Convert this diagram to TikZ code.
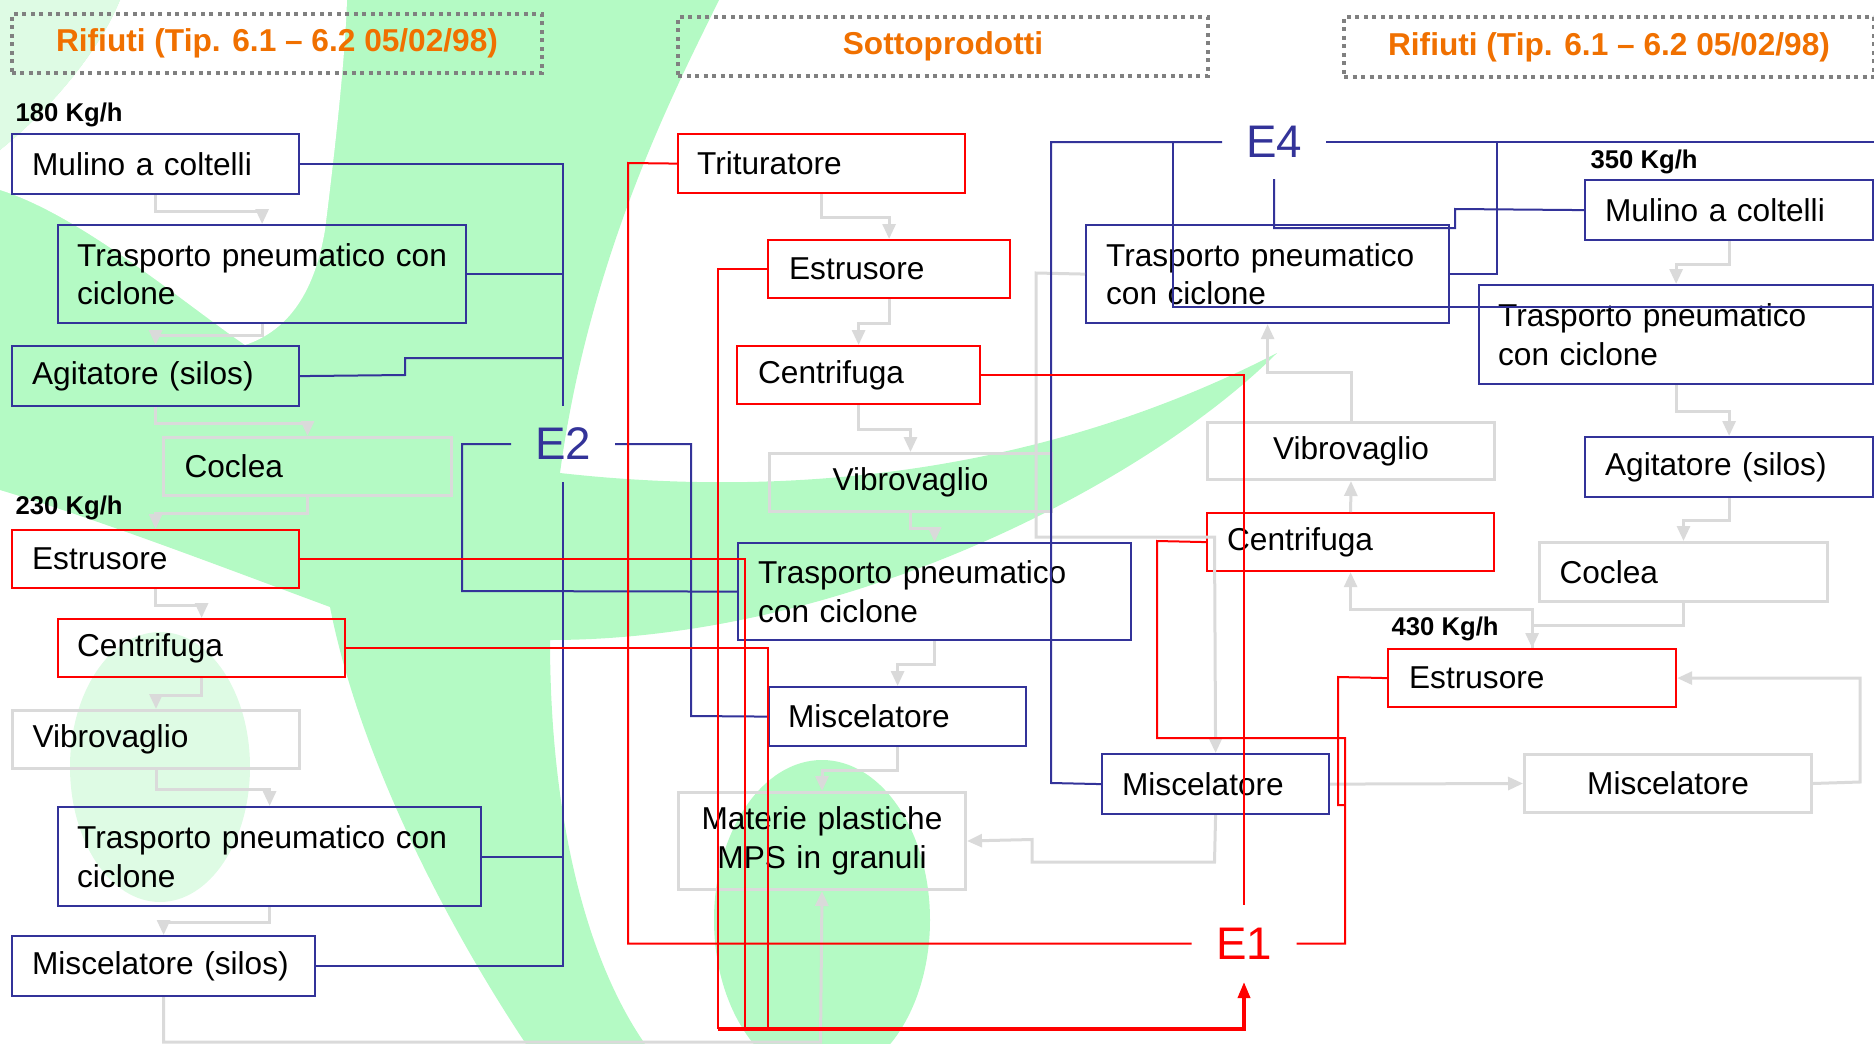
\documentclass[tikz,border=0pt]{standalone}
\usepackage{fontspec}
\setmainfont{Liberation Sans}
\usetikzlibrary{arrows.meta,calc}
\definecolor{eblue}{RGB}{51,51,153}
\definecolor{ered}{RGB}{255,0,0}
\definecolor{lgray}{RGB}{218,218,218}
\definecolor{bgreen}{RGB}{180,250,196}
\definecolor{pgreen}{RGB}{222,251,228}
\definecolor{hgray}{RGB}{128,128,128}
\definecolor{horange}{RGB}{240,112,0}
\newcommand\bxf{\fontsize{9}{11}\selectfont}
\newcommand\mkbox[8]{%
  \pgfmathsetmacro\myBW{(#5-#3)*0.1}%
  \pgfmathsetmacro\myBH{(#6-#4)*0.1}%
  \pgfmathsetmacro\myTW{(#5-#3-2*#7)*0.1}%
  \pgfmathsetmacro\myPS{#7*0.1}%
  \node[#1, anchor=north west, minimum width=\myBW mm, minimum height=\myBH mm,
        text width=\myTW mm, inner xsep=\myPS mm, inner ysep=0pt] (#2) at (#3,#4) {#8};}
\tikzset{
  bbox/.style={draw=eblue, line width=0.22mm, font=\bxf, align=left},
  rbox/.style={draw=ered, line width=0.22mm, font=\bxf, align=left},
  gbox/.style={draw=lgray, line width=0.3mm, font=\bxf, align=left},
  gcbox/.style={draw=lgray, line width=0.3mm, font=\bxf, align=center},
  hdr/.style={draw=hgray, line width=0.4mm, dash pattern=on 0.4mm off 0.45mm,
     text=horange, font=\fontsize{9}{11}\selectfont\bfseries, anchor=north west, inner sep=0pt},
  kg/.style={font=\fontsize{7.3}{9}\selectfont\bfseries, anchor=west, inner sep=0pt},
  elab/.style={font=\fontsize{13}{15}\selectfont, inner sep=0pt, outer sep=0pt},
  bl/.style={draw=eblue, line width=0.2mm},
  rl/.style={draw=ered, line width=0.2mm},
  ga/.style={draw=lgray, line width=0.3mm, -{Triangle[length=1.5mm,width=1.3mm]}},
}
\begin{document}
\begin{tikzpicture}[x=0.1mm,y=-0.1mm, line join=miter]
\useasboundingbox (0,0) rectangle (1874,1044);
\clip (0,0) rectangle (1874,1044);
% background logo
\fill[bgreen] (0,0) -- (719,0)
  .. controls (680,80) and (590,250) .. (560,473)
  .. controls (800,500) and (1050,470) .. (1277,353)
  .. controls (1150,480) and (850,640) .. (550,640)
  .. controls (550,800) and (580,950) .. (645,1044) -- (526,1044)
  .. controls (450,930) and (360,760) .. (330,607)
  .. controls (230,570) and (100,520) .. (0,490) -- cycle;
\fill[white] (120,0) -- (347,0) .. controls (345,60) and (335,150) .. (325,230)
  .. controls (315,290) and (290,330) .. (245,345)
  .. controls (180,300) and (80,215) .. (0,190) -- (0,150)
  .. controls (50,110) and (100,50) .. (120,0) -- cycle;
\fill[pgreen] (0,0) -- (120,0) .. controls (100,50) and (50,110) .. (0,150) -- cycle;
\fill[pgreen] (160,767) ellipse [x radius=90, y radius=135];
\fill[bgreen] (822,920) ellipse [x radius=108, y radius=160];

% headers
\node[hdr, minimum width=53mm, minimum height=5.9mm] (h1) at (10,12) {Rifiuti (Tip. 6.1 – 6.2 05/02/98)};
\node[hdr, minimum width=53mm, minimum height=5.9mm] (h2) at (676,15) {Sottoprodotti};
\node[hdr, minimum width=53mm, minimum height=6mm] (h3) at (1342,15) {Rifiuti (Tip. 6.1 – 6.2 05/02/98)};

% kg labels
\node[kg] (k180) at (15,115) {180 Kg/h};
\node[kg] (k230) at (15,508) {230 Kg/h};
\node[kg] (k350) at (1590,162) {350 Kg/h};
\node[kg] (k430) at (1391,629) {430 Kg/h};

% left column
\mkbox{bbox}{L1}{11}{133}{298}{193}{20}{Mulino a coltelli}
\mkbox{bbox}{L2}{57}{224}{465}{322}{19}{\mbox{Trasporto pneumatico con}\\ciclone}
\mkbox{bbox}{L3}{11}{345}{298}{405}{20}{Agitatore (silos)}
\mkbox{gbox}{L4}{162}{436}{450}{494}{21}{Coclea}
\mkbox{rbox}{L5}{11}{529}{298}{587}{20}{Estrusore}
\mkbox{rbox}{L6}{57}{618}{344}{676}{19}{Centrifuga}
\mkbox{gbox}{L7}{11}{709}{298}{767}{20}{Vibrovaglio}
\mkbox{bbox}{L8}{57}{806}{480}{905}{19}{\mbox{Trasporto pneumatico con}\\ciclone}
\mkbox{bbox}{L9}{11}{935}{314}{995}{20}{Miscelatore (silos)}

% center column
\mkbox{rbox}{C1}{677}{133}{964}{192}{19}{Trituratore}
\mkbox{rbox}{C2}{767}{239}{1009}{297}{21}{Estrusore}
\mkbox{rbox}{C3}{736}{345}{979}{403}{21}{Centrifuga}
\mkbox{gcbox}{C4}{768}{452}{1050}{510}{10}{Vibrovaglio}
\mkbox{bbox}{C5}{737}{542}{1130}{639}{20}{\mbox{Trasporto pneumatico}\\con ciclone}
\mkbox{bbox}{C6}{768}{686}{1025}{745}{19}{Miscelatore}
\mkbox{gcbox}{C7}{677}{791}{964}{888}{10}{Materie plastiche\\MPS in granuli}

% middle-right
\mkbox{bbox}{M1}{1085}{224}{1448}{322}{20}{\mbox{Trasporto pneumatico}\\con ciclone}
\mkbox{gcbox}{M2}{1206}{421}{1493}{478}{10}{Vibrovaglio}
\mkbox{rbox}{M3}{1206}{512}{1493}{570}{20}{Centrifuga}
\mkbox{bbox}{M4}{1101}{753}{1328}{813}{20}{Miscelatore}
\mkbox{rbox}{M5}{1387}{648}{1675}{706}{21}{Estrusore}
\mkbox{gcbox}{M6}{1523}{753}{1810}{811}{10}{Miscelatore}

% right column
\mkbox{bbox}{R1}{1584}{179}{1872}{239}{20}{Mulino a coltelli}
\mkbox{bbox}{R2}{1478}{284}{1872}{383}{19}{\mbox{Trasporto pneumatico}\\con ciclone}
\mkbox{bbox}{R3}{1584}{436}{1872}{496}{20}{Agitatore (silos)}
\mkbox{gbox}{R4}{1538}{541}{1826}{600}{20}{Coclea}

% E labels
\node[elab, text=eblue, minimum width=10.4mm, minimum height=7.6mm] (e2) at (563,444) {E2};
\node[elab, text=eblue, minimum width=10.4mm, minimum height=7.4mm] (e4) at (1274,142) {E4};
\node[elab, text=ered, minimum width=10.5mm, minimum height=7.7mm] (e1) at (1244,943.5) {E1};

% gray flow connectors
\draw[ga] (L1.south) -- ++(0,16) -| (L2.north);
\draw[ga] (L2.south) -- ++(0,11) -| (L3.north);
\draw[ga] (L3.south) -- ++(0,16) -| (L4.north);
\draw[ga] (L4.south) -- ++(0,16) -| (L5.north);
\draw[ga] (L5.south) -- ++(0,16) -| (L6.north);
\draw[ga] (L6.south) -- ++(0,17) -| (L7.north);
\draw[ga] (L7.south) -- ++(0,19) -| (L8.north);
\draw[ga] (L8.south) -- ++(0,15) -| (L9.north);
\draw[ga] (L9.south) |- (820.5,1042) -- (C7.south);
\draw[ga] (C1.south) -- ++(0,23) -| (C2.north);
\draw[ga] (C2.south) -- ++(0,24) -| (C3.north);
\draw[ga] (C3.south) -- ++(0,24) -| (C4.north);
\draw[ga] (C4.south) -- ++(0,15) -| (C5.north);
\draw[ga] (C5.south) -- ++(0,23) -| (C6.north);
\draw[ga] (C6.south) -- ++(0,23) -| (C7.north);
\draw[ga] (M4.south) -- (1214.5,862) -- (1032,862) -- (1032,839.5) -- (C7.east);
\draw[ga] (M1.west) -- (1036,273) -- (1036,537) -- (1214.5,537) -- (M4.north);
\draw[ga] (M2.north) -- ++(0,-49) -| (M1.south);
\draw[ga] (M3.north) -- (M2.south);
\draw[ga] (R4.south) -- ++(0,22) -| (M5.north);
\draw[ga] (M5.north) -- ++(0,-39) -| (M3.south);
\draw[ga] (M4.east) -- (M6.west);
\draw[ga] (M6.east) -- (1860,782) |- (M5.east);
\draw[ga] (R1.south) -- ++(0,23) -| (R2.north);
\draw[ga] (R2.south) -- ++(0,26) -| (R3.north);
\draw[ga] (R3.south) -- ++(0,22) -| (R4.north);

% blue E2 connectors
\draw[bl] (L1.east) -| (e2.north);
\draw[bl] (L2.east) -- (L2.east -| e2.north);
\draw[bl] (L3.east) -- (405,375) -- (405,358) -- (563,358);
\draw[bl] (e2.south) |- (L9.east);
\draw[bl] (L8.east) -- (L8.east -| e2.south);
\draw[bl] (e2.west) -| (462,591) -- (C5.west);
\draw[bl] (e2.east) -| (691,716) -- (C6.west);
% blue E4 connectors
\draw[bl] (e4.west) -| (1051,783) -- (M4.west);
\draw[bl] (1173,142) -- (1173,307) -- (1874,307);
\draw[bl] (e4.east) -- (1874,142);
\draw[bl] (1497,142) |- (M1.east);
\draw[bl] (e4.south) -- (1274,228) -| (1455,209) -- (R1.west);
\draw[bl] (R2.east) -- (1874,333.5);
\draw[bl] (R3.east) -- (1874,466);

% red E1 connectors
\draw[rl] (e1.west) -| (628,163) -- (C1.west);
\draw[rl] (e1.east) -- (1345,943.5) -- (1345,738) -- (1157,738) -- (1157,541) -- (M3.west);
\draw[rl] (M5.west) -- (1338,677) -- (1338,805) -- (1345,805);
\draw[rl] (C3.east) -| (e1.north);
\draw[rl] (L5.east) -| (745,1029);
\draw[rl] (L6.east) -| (768,1029);
\draw[rl] (C2.west) -| (718,1029);
\draw[draw=ered, line width=0.35mm, -{Triangle[length=1.6mm,width=1.2mm]}] (718,1029) -| (e1.south);
\end{tikzpicture}
\end{document}
